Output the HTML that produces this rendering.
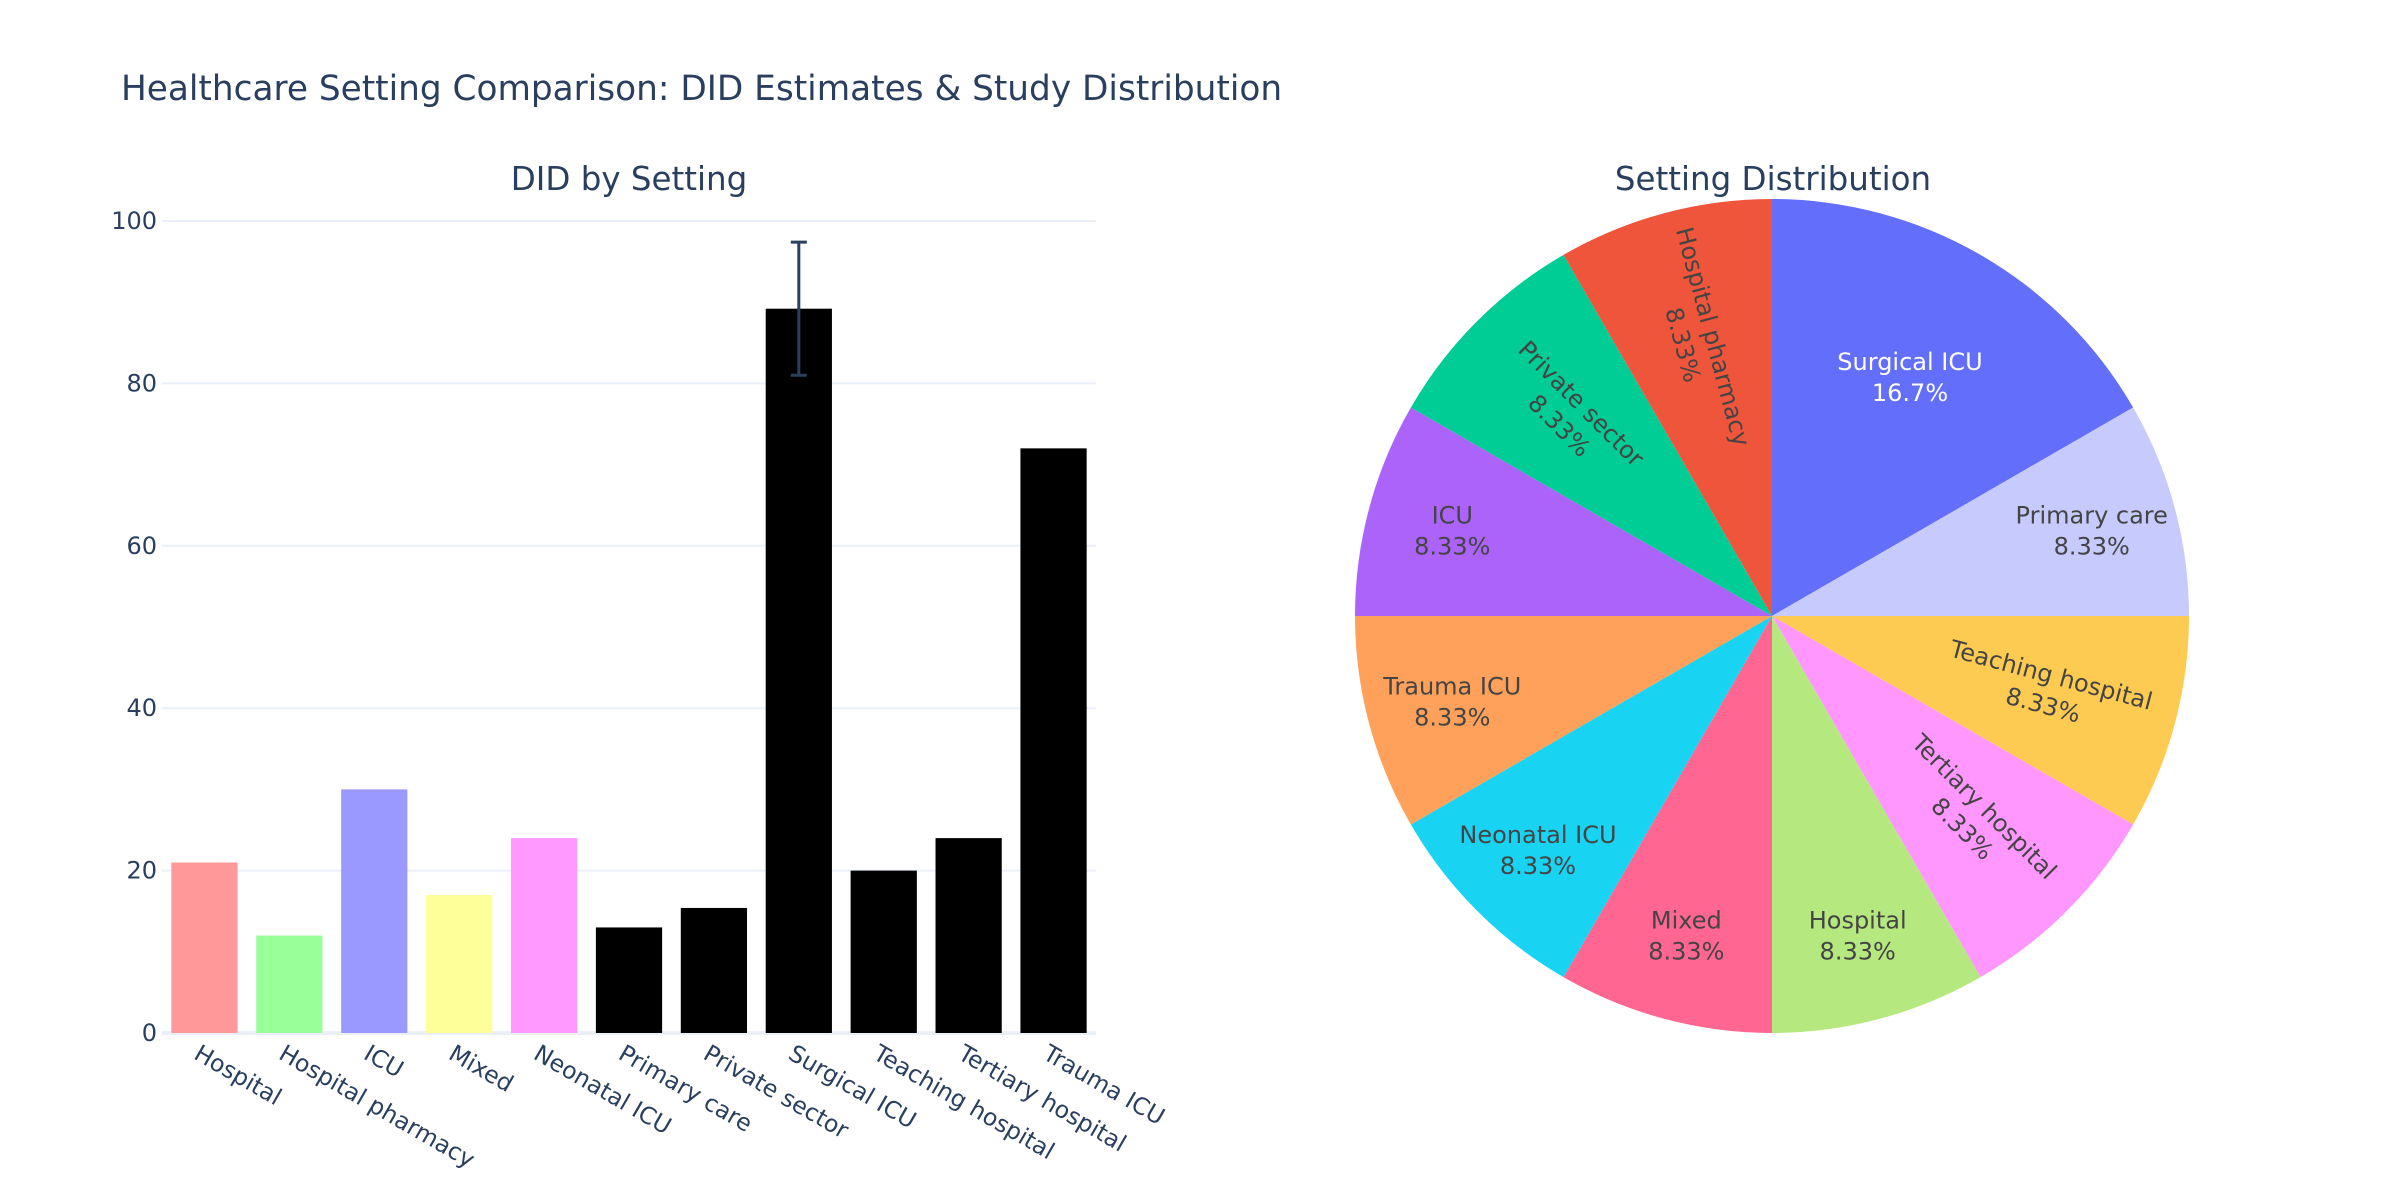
<!DOCTYPE html>
<html><head><meta charset="utf-8"><style>
html,body{margin:0;padding:0;background:#fff;}
svg{display:block;font-family:"DejaVu Sans","Liberation Sans",sans-serif;}
</style></head><body>
<svg id="chart" width="2400" height="1200" viewBox="0 0 2400 1200">
<text x="121" y="100" font-size="34.3" fill="#2a3f5f">Healthcare Setting Comparison: DID Estimates &amp; Study Distribution</text>
<text x="629" y="190" font-size="32.5" fill="#2a3f5f" text-anchor="middle">DID by Setting</text>
<text x="1773" y="190" font-size="32.5" fill="#2a3f5f" text-anchor="middle">Setting Distribution</text>
<g id="grid"></g>
<g id="bars"></g>
<g id="xlabels"></g>
<g id="ylabels"></g>
<g id="pie"></g>
</svg>
<script>
const categories = ["Hospital","Hospital pharmacy","ICU","Mixed","Neonatal ICU","Primary care","Private sector","Surgical ICU","Teaching hospital","Tertiary hospital","Trauma ICU"];
const didValues = [21,12,30,17,24,13,15.4,89.2,20,24,72];
const errorValues = [0,0,0,0,0,0,0,8.2,0,0,0];
const barColors = ["#ff9999","#99ff99","#9999ff","#ffff99","#ff99ff","#000000","#000000","#000000","#000000","#000000","#000000"];
const yTicks = [0,20,40,60,80,100];
const pieLabels = ["Surgical ICU","Primary care","Teaching hospital","Tertiary hospital","Hospital","Mixed","Neonatal ICU","Trauma ICU","ICU","Private sector","Hospital pharmacy"];
const pieCounts = [2,1,1,1,1,1,1,1,1,1,1];
const pieColors = ["#636efa","#c6cafc","#fecb52","#ff97ff","#b6e880","#ff6692","#19d3f3","#ffa15a","#ab63fa","#00cc96","#ef553b"];

const NS="http://www.w3.org/2000/svg";
function mk(tag,attrs,parent){const e=document.createElementNS(NS,tag);for(const k in attrs)e.setAttribute(k,attrs[k]);parent.appendChild(e);return e;}
const X0=162,X1=1096,Y0=1033,Y100=221;
const yScale=v=>Y0-(v/100)*(Y0-Y100);
const band=(X1-X0)/categories.length;
const xCenter=i=>X0+band*(i+0.5);

const grid=document.getElementById('grid'),ylab=document.getElementById('ylabels');
yTicks.forEach(t=>{
  const l=mk('line',{x1:X0,x2:X1,y1:yScale(t),y2:yScale(t),stroke:'#ebf0f8','stroke-width':t===0?4:2},grid);
  
  
  const tx=mk('text',{x:157,y:yScale(t)+8,'font-size':24,fill:'#2a3f5f','text-anchor':'end'},ylab);
  tx.textContent=t;
  
  
});
const bars=document.getElementById('bars'),xl=document.getElementById('xlabels');
const bw=band*0.78;
categories.forEach((c,i)=>{
  const y=yScale(didValues[i]);
  const r=mk('rect',{x:xCenter(i)-bw/2,y:y,width:bw,height:Y0-y,fill:barColors[i]},bars);
  
  
  if(errorValues[i]>0){
    const g=mk('g',{stroke:'#2a3f5f','stroke-width':3},bars);
    
    
    const yt=yScale(didValues[i]+errorValues[i]),yb=yScale(didValues[i]-errorValues[i]),xc=xCenter(i);
    mk('line',{x1:xc,x2:xc,y1:yt,y2:yb},g);
    mk('line',{x1:xc-8,x2:xc+8,y1:yt,y2:yt},g);
    mk('line',{x1:xc-8,x2:xc+8,y1:yb,y2:yb},g);
  }
  const xc=xCenter(i)-12;
  const t=mk('text',{x:xc,y:1058,'font-size':23.5,fill:'#2a3f5f',transform:`rotate(30 ${xc} 1058)`},xl);
  t.textContent=c;
  
  
});

// pie
const pie=document.getElementById('pie');
const CX=1772,CY=616,R=417;
const total=pieCounts.reduce((a,b)=>a+b,0);
let acc=0;
const rotatedSet={"Hospital pharmacy":1,"Private sector":1,"Teaching hospital":1,"Tertiary hospital":1};
const pt=(ang,r)=>[CX+r*Math.sin(ang),CY-r*Math.cos(ang)];
pieLabels.forEach((lab,i)=>{
  const frac=pieCounts[i]/total;
  const a0=acc*2*Math.PI,a1=(acc+frac)*2*Math.PI;acc+=frac;
  const [x0,y0]=pt(a0,R),[x1,y1]=pt(a1,R);
  const large=frac>0.5?1:0;
  const p=mk('path',{d:`M${CX},${CY} L${x0},${y0} A${R},${R} 0 ${large} 1 ${x1},${y1} Z`,fill:pieColors[i]},pie);
  
  
  const am=(a0+a1)/2;
  const pct=(frac*100);
  const pctText=(pct>=10?pct.toFixed(1):pct.toFixed(2))+'%';
  const rot=!!rotatedSet[lab];
  const dist=frac>0.1?276:(rot?285:331);
  const [lx,ly]=pt(am,dist);
  let deg=0;
  if(rot){deg=am*180/Math.PI-90; if(deg<-90)deg+=180; if(deg>90)deg-=180;}
  const g=mk('g',{transform:`translate(${lx} ${ly}) rotate(${deg})`},pie);
  
  
  const col=i===0?'#ffffff':'#444444';
  const fs=24;
  const t1=mk('text',{x:0,y:-7,'font-size':fs,fill:col,'text-anchor':'middle'},g);t1.textContent=lab;
  const t2=mk('text',{x:0,y:24,'font-size':fs,fill:col,'text-anchor':'middle'},g);t2.textContent=pctText;
});
</script>
</body></html>
